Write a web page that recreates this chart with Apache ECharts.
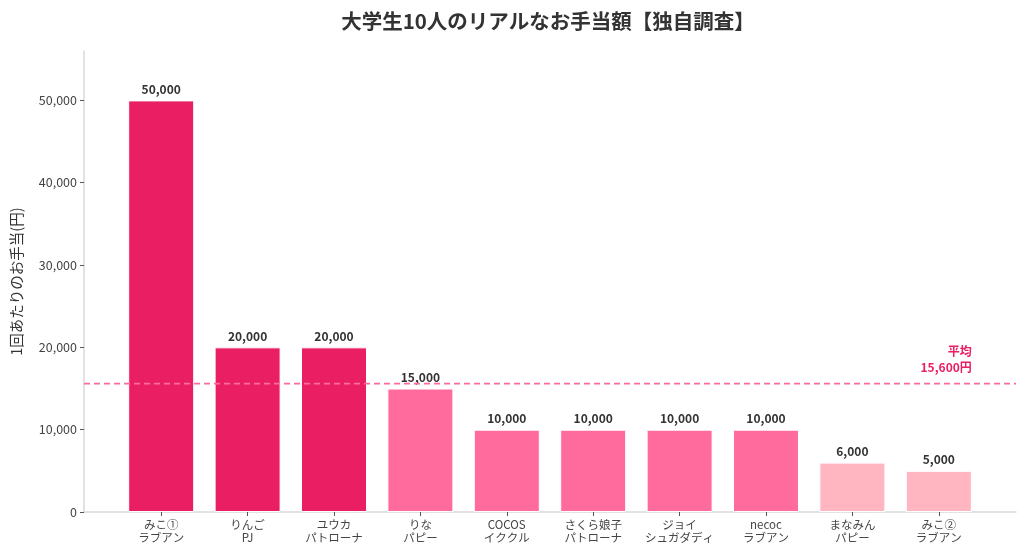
<!DOCTYPE html>
<html>
<head>
<meta charset="utf-8">
<script src="https://cdn.jsdelivr.net/npm/echarts@6/dist/echarts.min.js"></script>
<style>
html,body{margin:0;padding:0;background:#fff;}
#main{width:1024px;height:554px;}
</style>
</head>
<body>
<div id="main"></div>
<script>
const names = ['みこ①','りんご','ユウカ','りな','COCOS','さくら娘子','ジョイ','necoc','まなみん','みこ②'];
const shops = ['ラブアン','PJ','パトローナ','パピー','イククル','パトローナ','シュガダディ','ラブアン','パピー','ラブアン'];
const values = [50000,20000,20000,15000,10000,10000,10000,10000,6000,5000];
const average = 15600;
const yTicks = [0,10000,20000,30000,40000,50000];

const DARK = '#E91E63', MID = '#FF6B9D', LIGHT = '#FFB6C1';
function colorFor(v){ return v >= 20000 ? DARK : (v >= 10000 ? MID : LIGHT); }
const fmt = v => v.toLocaleString('en-US');
const FONT = '"Noto Sans CJK JP", "Noto Sans", sans-serif';
const YMAX = 56000;

const chart = echarts.init(document.getElementById('main'));
chart.setOption({
  animation:false,
  textStyle:{fontFamily:FONT},
  title:{
    text:'大学生10人のリアルなお手当額【独自調査】',
    left:543, textAlign:'center', top:6,
    textStyle:{fontSize:20.5,fontWeight:'bold',color:'#333',fontFamily:FONT}
  },
  grid:[
    {left:84,right:8,top:51,bottom:42},
    {left:118,right:42,top:51,bottom:42}
  ],
  xAxis:[
    {gridIndex:0,type:'value',min:0,max:1,
     axisLine:{show:true,lineStyle:{color:'#d9d9d9',width:1.5}},
     axisTick:{show:false},axisLabel:{show:false},splitLine:{show:false}},
    {gridIndex:1,type:'category',data:names.map((n,i)=>n+'\n'+shops[i]),
     axisLine:{show:false},
     axisTick:{show:true,alignWithLabel:true,length:4,lineStyle:{color:'#555'}},
     axisLabel:{fontSize:11.5,lineHeight:13,color:'#444',margin:6,interval:0,fontFamily:FONT},
     splitLine:{show:false}}
  ],
  yAxis:[
    {gridIndex:0,type:'value',min:0,max:YMAX,
     axisLine:{show:true,lineStyle:{color:'#d9d9d9',width:1.5}},
     axisTick:{show:true,length:4,lineStyle:{color:'#555'},customValues:yTicks},
     axisLabel:{fontSize:12.5,color:'#444',margin:7,fontFamily:FONT,
       customValues:yTicks, formatter:v=>fmt(v)},
     splitLine:{show:false},
     name:'1回あたりのお手当(円)',nameLocation:'middle',nameGap:60,nameRotate:90,
     nameTextStyle:{fontSize:14.5,color:'#333',fontFamily:FONT}},
    {gridIndex:1,type:'value',min:0,max:YMAX,show:false}
  ],
  series:[
    {
      type:'bar',xAxisIndex:1,yAxisIndex:1,barWidth:66,
      data:values.map(v=>({value:v,itemStyle:{color:colorFor(v),borderColor:'#fff',borderWidth:1}})),
      label:{show:true,position:'top',distance:5,formatter:p=>fmt(p.value),
        fontSize:12,fontWeight:'bold',color:'#333',fontFamily:FONT},
      markPoint:{
        symbol:'circle',symbolSize:0,
        data:[{coord:[names.length-1,average]}],
        label:{show:true,formatter:'平均\n'+fmt(average)+'円',position:'inside',
          align:'right',verticalAlign:'bottom',offset:[33,-8],
          fontSize:12,fontWeight:'bold',color:DARK,lineHeight:16,fontFamily:FONT}
      }
    },
    {
      type:'line',xAxisIndex:0,yAxisIndex:0,symbol:'none',silent:true,
      data:[[0,average],[1,average]],
      lineStyle:{color:MID,width:1.8,type:[6,4]}
    }
  ]
});
</script>
</body>
</html>
